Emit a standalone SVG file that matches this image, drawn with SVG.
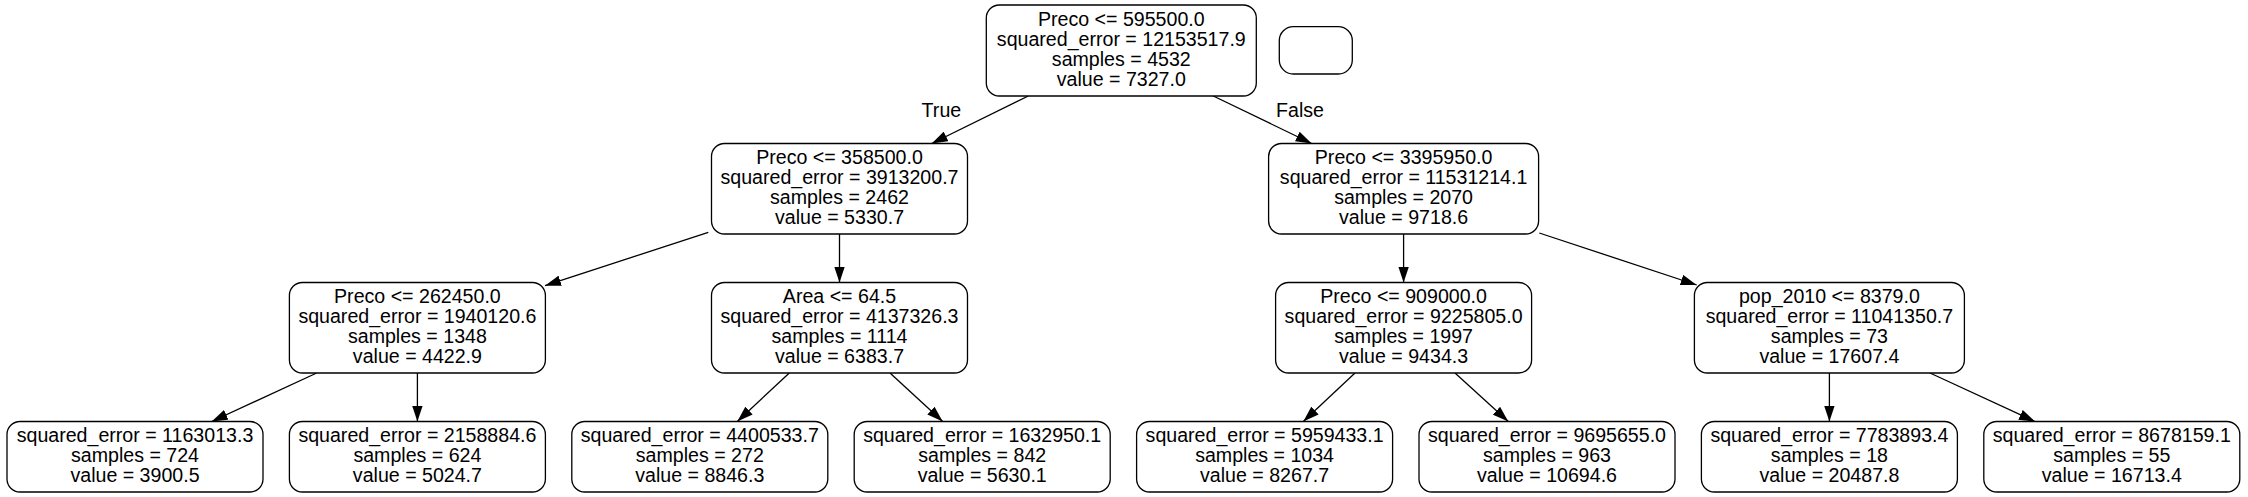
<svg xmlns="http://www.w3.org/2000/svg" width="2248" height="497" viewBox="0 0 2248 497">
<defs>
<style>
.box{fill:#fff;stroke:#000;stroke-width:1.3}
text{font-family:"Liberation Sans",Arial,sans-serif;font-size:19.6px;fill:#000;text-anchor:middle}
.edge{stroke:#000;stroke-width:1.3;fill:none;marker-end:url(#arr)}
</style>
<marker id="arr" markerUnits="userSpaceOnUse" markerWidth="16" markerHeight="11" refX="15" refY="5" orient="auto" viewBox="0 0 15 10">
<path d="M0,0 L15,5 L0,10 z" fill="#000"/>
</marker>
</defs>
<rect width="2248" height="497" fill="#fff"/>
<g id="connectors">
<line class="edge" x1="1028.3" y1="96" x2="931.7" y2="143.5"/>
<line class="edge" x1="1213.3" y1="96" x2="1311.7" y2="143.5"/>
<line class="edge" x1="708.3" y1="232.3" x2="545" y2="285.7"/>
<line class="edge" x1="839.5" y1="234" x2="839.5" y2="282.5"/>
<line class="edge" x1="1403.6" y1="234" x2="1403.6" y2="282.5"/>
<line class="edge" x1="1539.3" y1="233" x2="1696.7" y2="285"/>
<line class="edge" x1="316.7" y1="373" x2="211.7" y2="421.5"/>
<line class="edge" x1="417.4" y1="373" x2="417.4" y2="421.5"/>
<line class="edge" x1="789.3" y1="373" x2="737.3" y2="421.5"/>
<line class="edge" x1="890" y1="373" x2="942.7" y2="421.5"/>
<line class="edge" x1="1355" y1="373" x2="1303.3" y2="421.5"/>
<line class="edge" x1="1455" y1="373" x2="1508.3" y2="421.5"/>
<line class="edge" x1="1829.4" y1="373" x2="1829.4" y2="421.5"/>
<line class="edge" x1="1930" y1="373" x2="2035" y2="421.5"/>
<text x="941.4" y="116.5">True</text>
<text x="1300" y="116.5">False</text>
</g>
<g id="n0">
<rect class="box" x="986.3" y="5" width="270" height="91" rx="13"/>
<text x="1121.3" y="25.5">Preco &lt;= 595500.0</text>
<text x="1121.3" y="45.5">squared_error = 12153517.9</text>
<text x="1121.3" y="65.5">samples = 4532</text>
<text x="1121.3" y="85.5">value = 7327.0</text>
</g>
<g id="legend">
<rect class="box" x="1279.3" y="26.7" width="73" height="47.3" rx="14"/>
</g>
<g id="n1">
<rect class="box" x="711.5" y="143.5" width="256" height="90.5" rx="13"/>
<text x="839.5" y="163.8">Preco &lt;= 358500.0</text>
<text x="839.5" y="183.8">squared_error = 3913200.7</text>
<text x="839.5" y="203.8">samples = 2462</text>
<text x="839.5" y="223.8">value = 5330.7</text>
</g>
<g id="n2">
<rect class="box" x="1268.6" y="143.5" width="270" height="90.5" rx="13"/>
<text x="1403.6" y="163.8">Preco &lt;= 3395950.0</text>
<text x="1403.6" y="183.8">squared_error = 11531214.1</text>
<text x="1403.6" y="203.8">samples = 2070</text>
<text x="1403.6" y="223.8">value = 9718.6</text>
</g>
<g id="n3">
<rect class="box" x="289.4" y="282.5" width="256" height="90.5" rx="13"/>
<text x="417.4" y="302.8">Preco &lt;= 262450.0</text>
<text x="417.4" y="322.8">squared_error = 1940120.6</text>
<text x="417.4" y="342.8">samples = 1348</text>
<text x="417.4" y="362.8">value = 4422.9</text>
</g>
<g id="n4">
<rect class="box" x="711.5" y="282.5" width="256" height="90.5" rx="13"/>
<text x="839.5" y="302.8">Area &lt;= 64.5</text>
<text x="839.5" y="322.8">squared_error = 4137326.3</text>
<text x="839.5" y="342.8">samples = 1114</text>
<text x="839.5" y="362.8">value = 6383.7</text>
</g>
<g id="n5">
<rect class="box" x="1275.6" y="282.5" width="256" height="90.5" rx="13"/>
<text x="1403.6" y="302.8">Preco &lt;= 909000.0</text>
<text x="1403.6" y="322.8">squared_error = 9225805.0</text>
<text x="1403.6" y="342.8">samples = 1997</text>
<text x="1403.6" y="362.8">value = 9434.3</text>
</g>
<g id="n6">
<rect class="box" x="1694.4" y="282.5" width="270" height="90.5" rx="13"/>
<text x="1829.4" y="302.8">pop_2010 &lt;= 8379.0</text>
<text x="1829.4" y="322.8">squared_error = 11041350.7</text>
<text x="1829.4" y="342.8">samples = 73</text>
<text x="1829.4" y="362.8">value = 17607.4</text>
</g>
<g id="n7">
<rect class="box" x="7" y="421.5" width="256" height="70.5" rx="13"/>
<text x="135" y="441.7">squared_error = 1163013.3</text>
<text x="135" y="461.7">samples = 724</text>
<text x="135" y="481.7">value = 3900.5</text>
</g>
<g id="n8">
<rect class="box" x="289.4" y="421.5" width="256" height="70.5" rx="13"/>
<text x="417.4" y="441.7">squared_error = 2158884.6</text>
<text x="417.4" y="461.7">samples = 624</text>
<text x="417.4" y="481.7">value = 5024.7</text>
</g>
<g id="n9">
<rect class="box" x="571.8" y="421.5" width="256" height="70.5" rx="13"/>
<text x="699.8" y="441.7">squared_error = 4400533.7</text>
<text x="699.8" y="461.7">samples = 272</text>
<text x="699.8" y="481.7">value = 8846.3</text>
</g>
<g id="n10">
<rect class="box" x="854.2" y="421.5" width="256" height="70.5" rx="13"/>
<text x="982.2" y="441.7">squared_error = 1632950.1</text>
<text x="982.2" y="461.7">samples = 842</text>
<text x="982.2" y="481.7">value = 5630.1</text>
</g>
<g id="n11">
<rect class="box" x="1136.6" y="421.5" width="256" height="70.5" rx="13"/>
<text x="1264.6" y="441.7">squared_error = 5959433.1</text>
<text x="1264.6" y="461.7">samples = 1034</text>
<text x="1264.6" y="481.7">value = 8267.7</text>
</g>
<g id="n12">
<rect class="box" x="1419" y="421.5" width="256" height="70.5" rx="13"/>
<text x="1547" y="441.7">squared_error = 9695655.0</text>
<text x="1547" y="461.7">samples = 963</text>
<text x="1547" y="481.7">value = 10694.6</text>
</g>
<g id="n13">
<rect class="box" x="1701.4" y="421.5" width="256" height="70.5" rx="13"/>
<text x="1829.4" y="441.7">squared_error = 7783893.4</text>
<text x="1829.4" y="461.7">samples = 18</text>
<text x="1829.4" y="481.7">value = 20487.8</text>
</g>
<g id="n14">
<rect class="box" x="1983.8" y="421.5" width="256" height="70.5" rx="13"/>
<text x="2111.8" y="441.7">squared_error = 8678159.1</text>
<text x="2111.8" y="461.7">samples = 55</text>
<text x="2111.8" y="481.7">value = 16713.4</text>
</g>
</svg>
